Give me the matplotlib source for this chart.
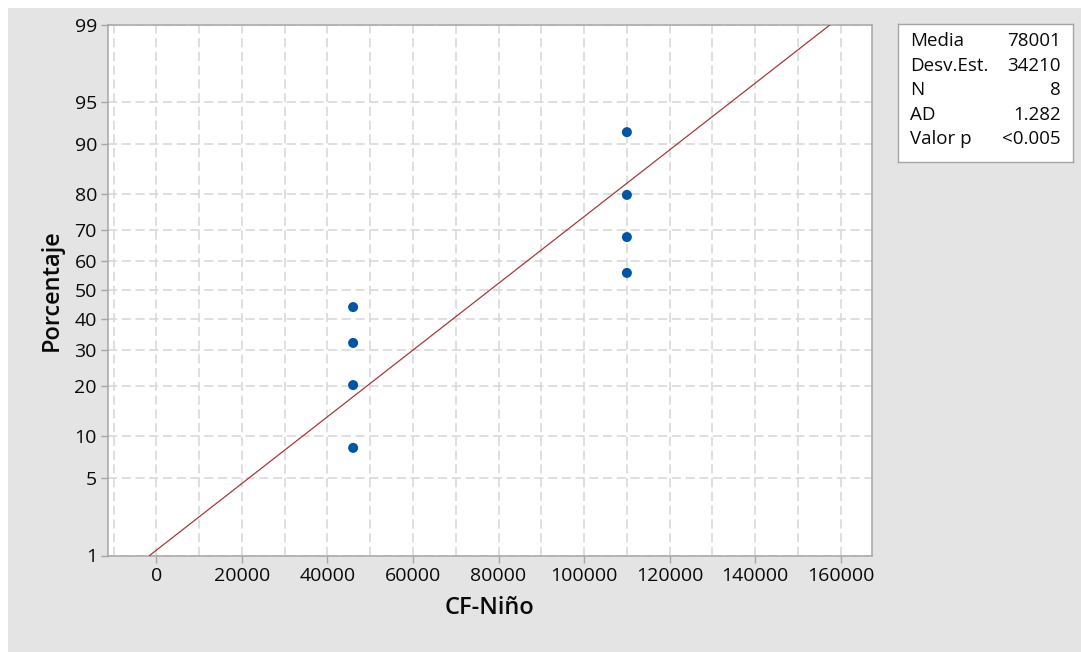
"""Normal probability plot of CF-Niño (Minitab style), with the summary box on the right."""
from statistics import NormalDist

import matplotlib

matplotlib.use("Agg")
import matplotlib.pyplot as plt
import numpy as np
from matplotlib.patches import Rectangle
from matplotlib.ticker import FixedLocator, MultipleLocator

plt.rcParams["font.family"] = ["Open Sans", "DejaVu Sans"]

# data
cf_nino = [46001, 46001, 46001, 46001, 110001, 110001, 110001, 110001]
percent = [8.33, 20.24, 32.14, 44.05, 55.95, 67.86, 79.76, 91.67]
y_ticks = [1, 5, 10, 20, 30, 40, 50, 60, 70, 80, 90, 95, 99]
x_ticks = [0, 20000, 40000, 60000, 80000, 100000, 120000, 140000, 160000]
media = 78001
desv = 34210
stats_labels = ["Media", "Desv.Est.", "N", "AD", "Valor p"]
stats_values = ["78001", "34210", "8", "1.282", "<0.005"]

ND = NormalDist()
_fwd = np.vectorize(lambda p: ND.inv_cdf(min(max(p, 1e-6), 100 - 1e-6) / 100.0), otypes=[float])
_inv = np.vectorize(lambda z: ND.cdf(z) * 100.0, otypes=[float])

GRID = "#d6d6d6"
SPINE = "#a6a6a6"
TXT = "#0a0a0a"


def main():
    fig = plt.figure(figsize=(10.81, 6.52), dpi=100, facecolor="white")
    fig.patches.append(Rectangle((8 / 1081, 0), 1, 1 - 8 / 652, transform=fig.transFigure,
                                 facecolor="#e4e4e4", edgecolor="none", zorder=-10))

    ax = fig.add_axes([108 / 1081, 1 - 555.5 / 652, (872 - 108) / 1081, (555.5 - 24.5) / 652])
    ax.set_yscale("function", functions=(_fwd, _inv))
    ax.set_ylim(1, 99)
    ax.set_xlim(-11300, 167300)

    # fitted normal line
    p_line = np.array([1, 5, 50, 95, 99], dtype=float)
    ax.plot(media + desv * _fwd(p_line), p_line, color="#a8383c", lw=0.9, zorder=3)
    ax.scatter(cf_nino, percent, s=52, color="#0055a5", zorder=4, edgecolor="none")

    ax.yaxis.set_major_locator(FixedLocator(y_ticks))
    ax.yaxis.set_minor_locator(FixedLocator([]))
    ax.set_yticklabels([str(t) for t in y_ticks], fontweight="medium")
    ax.xaxis.set_major_locator(FixedLocator(x_ticks))
    ax.xaxis.set_minor_locator(MultipleLocator(10000))
    ax.set_xticklabels([str(t) for t in x_ticks], fontweight="medium")

    ax.tick_params(which="major", length=5, width=1, color=SPINE, labelsize=14, pad=3,
                   labelcolor=TXT)
    ax.tick_params(which="minor", length=0)
    ax.grid(True, which="both", axis="x", color=GRID, lw=1.1, dashes=(6, 3))
    ax.grid(True, which="major", axis="y", color=GRID, lw=1.1, dashes=(6, 3))
    ax.set_axisbelow(True)
    for s in ax.spines.values():
        s.set_color(SPINE)
        s.set_linewidth(1.1)

    ax.set_xlabel("CF-Niño", fontsize=17, fontweight="semibold", color=TXT, labelpad=8)
    ax.set_ylabel("Porcentaje", fontsize=17, fontweight="semibold", color=TXT, labelpad=8)

    # summary box
    bx = fig.add_axes([898 / 1081, 1 - 162 / 652, (1073 - 898) / 1081, (162 - 24) / 652])
    bx.set_xticks([])
    bx.set_yticks([])
    for s in bx.spines.values():
        s.set_color(SPINE)
        s.set_linewidth(1)
    for i, (lab, val) in enumerate(zip(stats_labels, stats_values)):
        yy = 1 - (17 + 24.6 * i) / 138
        bx.text(12 / 175, yy, lab, transform=bx.transAxes, ha="left", va="center",
                fontsize=13.5, fontweight="medium", color=TXT)
        bx.text(163 / 175, yy, val, transform=bx.transAxes, ha="right", va="center",
                fontsize=13.5, fontweight="medium", color=TXT)

    fig.savefig("out.png", dpi=100, facecolor=fig.get_facecolor())


if __name__ == "__main__":
    main()
